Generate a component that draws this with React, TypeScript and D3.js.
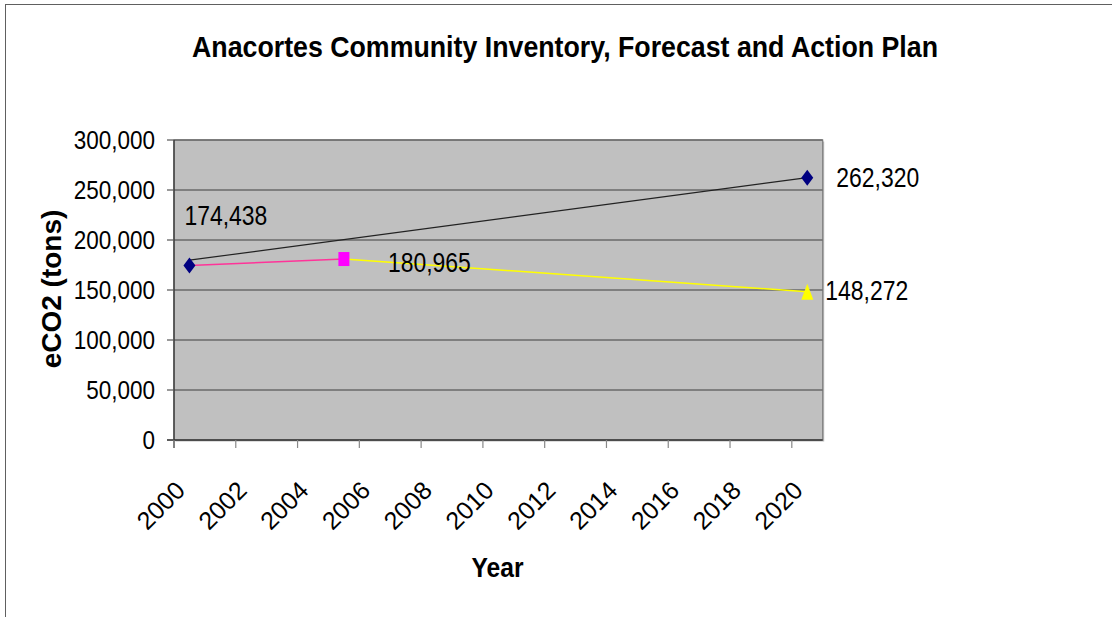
import React from "react";
import * as d3 from "d3";

const categories = ["2000","2001","2002","2003","2004","2005","2006","2007","2008","2009","2010","2011","2012","2013","2014","2015","2016","2017","2018","2019","2020"];
const xTickLabels = ["2000","2002","2004","2006","2008","2010","2012","2014","2016","2018","2020"];
const yTicks = [0, 50000, 100000, 150000, 200000, 250000, 300000];

// Business-as-usual forecast (black line)
const forecastYears = ["2000", "2020"];
const forecastValues = [179800, 262320];
// Inventory (pink line)
const inventoryYears = ["2000", "2005"];
const inventoryValues = [174438, 180965];
// Action plan (yellow line)
const actionYears = ["2005", "2020"];
const actionValues = [180965, 148272];

const labelYears = ["2000", "2005", "2020", "2020"];
const labelValues = [174438, 180965, 262320, 148272];
const labelTexts = ["174,438", "180,965", "262,320", "148,272"];

const FONT = "'Liberation Sans', Arial, Helvetica, sans-serif";

export default function App() {
  const W = 1112, H = 617;
  const left = 174, right = 822.7, top = 140, bottom = 440;
  const x = d3.scaleBand<string>().domain(categories).range([left, right]).padding(0);
  const y = d3.scaleLinear().domain([0, 300000]).range([bottom, top]);
  const cx = (c: string) => (x(c) as number) + x.bandwidth() / 2;
  const fmt = d3.format(",");

  const line = d3.line<[string, number]>().x(d => cx(d[0])).y(d => y(d[1]));
  const pts = (ys: string[], vs: number[]) => ys.map((c, i) => [c, vs[i]] as [string, number]);

  const diamond = (px: number, py: number) =>
    `M${px},${py - 8}L${px + 6},${py}L${px},${py + 8}L${px - 6},${py}Z`;
  const triangle = (px: number, py: number) =>
    `M${px},${py - 8}L${px + 6},${py + 8}L${px - 6},${py + 8}Z`;

  // label offsets (relative to the data point)
  const labelOffsets: [number, number][] = [[-5, -41], [44, 13], [29, 9], [18, 8]];

  return (
    <svg width={W} height={H} style={{ position: "absolute", left: 0, top: 0, background: "#fff" }} fontFamily={FONT}>
      <rect x={0} y={0} width={W} height={H} fill="#fff" />
      {/* chart area border */}
      <rect x={5.5} y={4.5} width={1400} height={900} fill="none" stroke="#606060" strokeWidth={1} />

      {/* title */}
      <text x={565} y={57} textAnchor="middle" fontSize={30} fontWeight="bold" textLength={746} lengthAdjust="spacingAndGlyphs">
        Anacortes Community Inventory, Forecast and Action Plan
      </text>

      {/* plot area */}
      <rect x={left + 1.5} y={top + 1.5} width={right - left} height={bottom - top} fill="#909090" opacity={0.6} />
      <rect x={left} y={top} width={right - left} height={bottom - top} fill="#C0C0C0" stroke="#808080" strokeWidth={1.2} />

      {/* gridlines */}
      {yTicks.filter(t => t > 0).map(t => (
        <line key={t} x1={left} x2={right} y1={y(t)} y2={y(t)} stroke="#6a6a6a" strokeWidth={1.3} />
      ))}

      {/* axes */}
      <line x1={left} x2={left} y1={top} y2={bottom + 8} stroke="#333" strokeWidth={1.3} />
      <line x1={left - 7} x2={right} y1={bottom} y2={bottom} stroke="#333" strokeWidth={1.3} />
      {yTicks.map(t => (
        <line key={"yt" + t} x1={left - 7} x2={left} y1={y(t)} y2={y(t)} stroke="#555" strokeWidth={1.2} />
      ))}
      {xTickLabels.map(c => (
        <line key={"xt" + c} x1={x(c) as number} x2={x(c) as number} y1={bottom} y2={bottom + 8} stroke="#888" strokeWidth={1.2} />
      ))}

      {/* y tick labels */}
      {yTicks.map(t => (
        <text key={"yl" + t} transform={`translate(155,${y(t) + 9}) scale(0.9,1)`} textAnchor="end" fontSize={25} fill="#000">
          {fmt(t)}
        </text>
      ))}

      {/* x tick labels */}
      {xTickLabels.map(c => (
        <text key={"xl" + c} transform={`translate(${(x(c) as number) + 12.5},492) rotate(-45)`} textAnchor="end" fontSize={25} fill="#000">
          {c}
        </text>
      ))}

      {/* axis titles */}
      <text transform={`translate(61,289) rotate(-90)`} textAnchor="middle" fontSize={28} fontWeight="bold">
        eCO2 (tons)
      </text>
      <text x={497.5} y={577} textAnchor="middle" fontSize={28} fontWeight="bold" textLength={52} lengthAdjust="spacingAndGlyphs">
        Year
      </text>

      {/* series lines */}
      <path d={line(pts(forecastYears, forecastValues)) || ""} fill="none" stroke="#222" strokeWidth={1.2} />
      <path d={line(pts(inventoryYears, inventoryValues)) || ""} fill="none" stroke="#FF3399" strokeWidth={1.5} />
      <path d={line(pts(actionYears, actionValues)) || ""} fill="none" stroke="#FFFF00" strokeWidth={1.5} />

      {/* markers */}
      <path d={diamond(cx(inventoryYears[0]), y(inventoryValues[0]))} fill="#000080" />
      <rect x={cx(inventoryYears[1]) - 5.5} y={y(inventoryValues[1]) - 7} width={11} height={14} fill="#FF00FF" />
      <path d={diamond(cx(forecastYears[1]), y(forecastValues[1]))} fill="#000080" />
      <path d={triangle(cx(actionYears[1]), y(actionValues[1]))} fill="#FFFF00" />

      {/* data labels */}
      {labelTexts.map((t, i) => (
        <text
          key={"dl" + i}
          transform={`translate(${cx(labelYears[i]) + labelOffsets[i][0]},${y(labelValues[i]) + labelOffsets[i][1]}) scale(0.85,1)`}
          fontSize={27}
          fill="#000"
        >
          {t}
        </text>
      ))}
    </svg>
  );
}
